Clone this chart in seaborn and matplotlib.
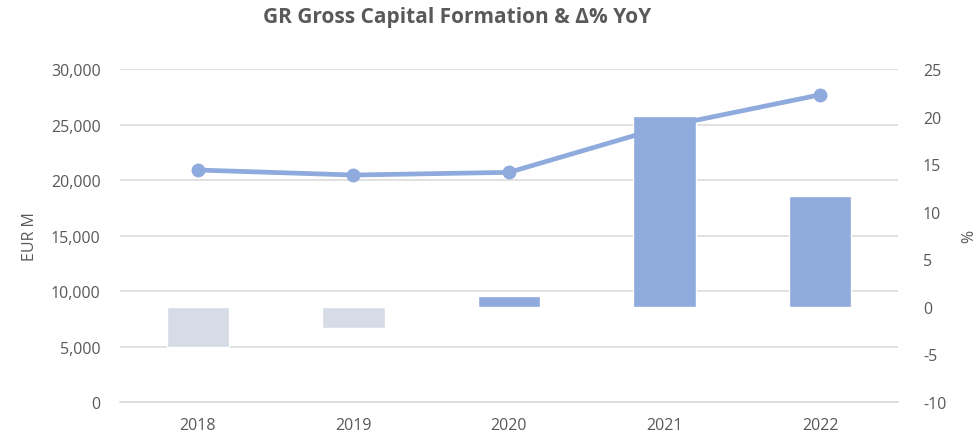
import matplotlib
matplotlib.use("Agg")
import matplotlib.pyplot as plt
import matplotlib.ticker as mticker
import seaborn as sns
import pandas as pd
import numpy as np

# Greek gross capital formation (EUR M) and year-on-year change (%)
years = ["2018", "2019", "2020", "2021", "2022"]
capital_formation = [20900, 20450, 20690, 24800, 27680]
yoy_change = [-4.2, -2.2, 1.1, 20.1, 11.7]

POS_COLOR = "#8FAADC"
NEG_COLOR = "#D6DCE5"
TEXT_COLOR = "#595959"
GRID_COLOR = "#D9D9D9"

sns.set_theme(style="white")
plt.rcParams["font.family"] = ["Open Sans", "DejaVu Sans"]
plt.rcParams["axes.unicode_minus"] = False

df = pd.DataFrame({
    "year": years,
    "value": capital_formation,
    "yoy": yoy_change,
})
df["sign"] = np.where(df["yoy"] < 0, "neg", "pos")

fig = plt.figure(figsize=(9.76, 4.39), dpi=100)
ax = fig.add_axes([0.123, 0.082, 0.797, 0.7585])   # EUR M axis (left), gridlines
ax_pct = ax.twinx()                                   # % axis (right), bars
ax_line = ax.twinx()                                  # EUR M scale again, line on top

# Bars: YoY %
sns.barplot(data=df, x="year", y="yoy", hue="sign",
            palette={"pos": POS_COLOR, "neg": NEG_COLOR},
            dodge=False, width=0.4, legend=False, ax=ax_pct,
            saturation=1)

# Line: gross capital formation
sns.lineplot(x=np.arange(len(years)), y=df["value"], ax=ax_line,
             color=POS_COLOR, linewidth=3.4, marker="o", markersize=10,
             markeredgewidth=0)

# Left axis
ax.set_ylim(0, 30000)
ax.set_yticks(np.arange(0, 30001, 5000))
ax.yaxis.set_major_formatter(mticker.FuncFormatter(lambda v, p: f"{int(v):,}"))
ax.grid(axis="y", color=GRID_COLOR, linewidth=1.1)
ax.set_axisbelow(True)
ax.set_ylabel("EUR M", color=TEXT_COLOR, fontsize=11.5, labelpad=9)

# Right axis
ax_pct.set_ylim(-10, 25)
ax_pct.set_yticks(np.arange(-10, 26, 5))
ax_pct.set_ylabel("%", color=TEXT_COLOR, fontsize=11.5, labelpad=11)
ax_pct.set_xlabel("")

# Hidden axis carrying the line
ax_line.set_ylim(0, 30000)
ax_line.set_yticks([])
ax_line.set_ylabel("")

for a in (ax, ax_pct, ax_line):
    a.set_xlim(-0.5, len(years) - 0.5)
    for s in ("top", "left", "right", "bottom"):
        a.spines[s].set_visible(False)
    a.tick_params(axis="y", length=0, labelsize=11.5, labelcolor=TEXT_COLOR, pad=14)

ax.spines["bottom"].set_visible(True)
ax.spines["bottom"].set_color(GRID_COLOR)
ax.spines["bottom"].set_linewidth(1.1)

ax.set_xticks(np.arange(len(years)))
ax.set_xticklabels(years)
ax.set_xticks(np.arange(-0.5, len(years)), minor=True)
ax.set_xlabel("")
ax.tick_params(axis="x", which="major", length=0, labelsize=11.5,
               labelcolor=TEXT_COLOR, pad=11)
ax.tick_params(axis="x", which="minor", length=5, color=GRID_COLOR,
               width=1.1, direction="out")
for a in (ax_pct, ax_line):
    a.tick_params(axis="x", which="both", bottom=False, top=False,
                  labelbottom=False, labeltop=False)
ax_pct.tick_params(axis="y", pad=18)

fig.suptitle("GR Gross Capital Formation & Δ% YoY", x=0.468, y=0.985,
             fontsize=15, fontweight="bold", color=TEXT_COLOR)

fig.savefig("out.png", dpi=100, facecolor="white")
